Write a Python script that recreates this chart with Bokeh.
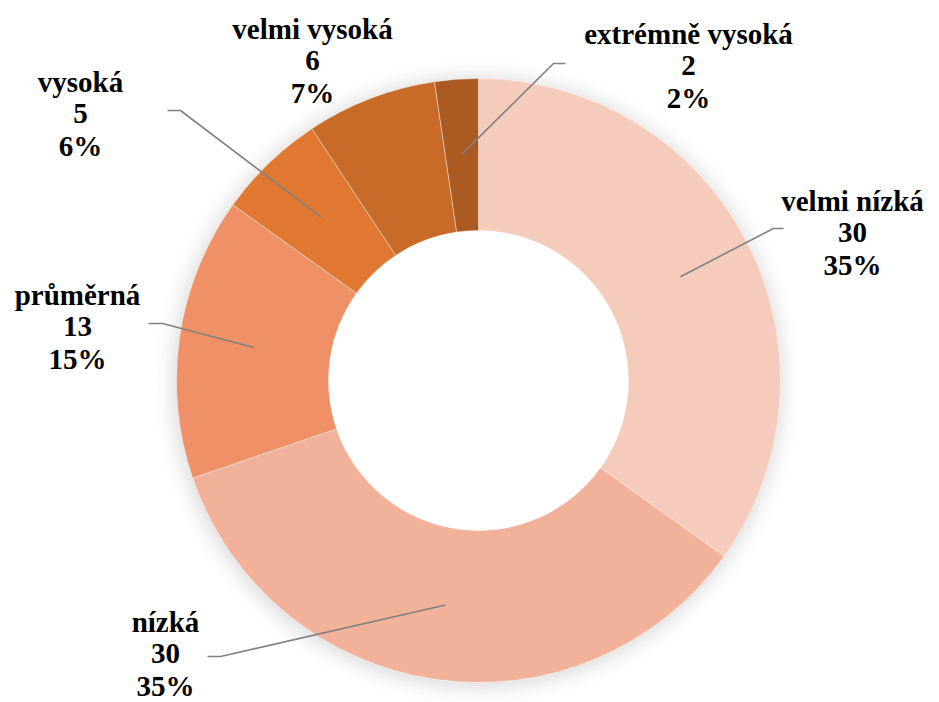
import math
from bokeh.plotting import figure
from bokeh.models import Range1d, ColumnDataSource
from bokeh.core.properties import value
from bokeh.embed import file_html
from bokeh.resources import INLINE

# ---- data ----
categories = ["velmi nízká", "nízká", "průměrná", "vysoká", "velmi vysoká", "extrémně vysoká"]
counts = [30, 30, 13, 5, 6, 2]
colors = ["#F5CBBC", "#F2B199", "#EF9066", "#E07831", "#C86B29", "#AB5A21"]

# ---- layout (pixel-like data units, y up) ----
W, H = 939, 702
CX, CY = 478, 322
R_OUT, R_IN = 302, 150
R_LEADER = 227
# label block centre (x, y of middle line)
label_x = [852, 165, 77, 80, 312, 688]
label_y = [470, 49, 376, 589, 642, 637]
LINE_GAP = 32
# leader line: outer start point and knee (None = no leader)
lead_start = [(783, 474), (207, 46), (148, 379), (167, 592), None, (565, 639)]
lead_knee = [(773, 474), (220, 46), (162, 379), (180, 592), None, (553, 639)]

total = sum(counts)
pcts = [round(c / total * 100) for c in counts]

starts, ends, mids = [], [], []
acc = 0
for c in counts:
    a0 = acc / total
    acc += c
    a1 = acc / total
    starts.append(math.pi / 2 - a0 * 2 * math.pi)
    ends.append(math.pi / 2 - a1 * 2 * math.pi)
    mids.append(math.pi / 2 - (a0 + a1) / 2 * 2 * math.pi)

p = figure(width=W, height=H, output_backend="svg", toolbar_location=None,
           x_range=Range1d(0, W), y_range=Range1d(0, H), min_border=0)
p.axis.visible = False
p.grid.visible = False
p.outline_line_color = None
p.background_fill_color = "white"

# soft outer shadow
n = 14
for i in range(n):
    r0 = R_OUT - 2 + i * 2
    p.annulus(x=CX - 1, y=CY - 2, inner_radius=r0, outer_radius=r0 + 2,
              fill_color="#000000", fill_alpha=0.10 * (1 - i / n) ** 2, line_color=None)

src = ColumnDataSource(dict(start=starts, end=ends, color=colors, cat=categories))
p.annular_wedge(x=CX, y=CY, inner_radius=R_IN, outer_radius=R_OUT,
                start_angle="start", end_angle="end", direction="clock",
                fill_color="color", line_color="#FFFFFF", line_alpha=0.5, line_width=0.8,
                source=src)

# leader lines
for i in range(len(categories)):
    if lead_start[i] is None:
        continue
    ex = CX + R_LEADER * math.cos(mids[i])
    ey = CY + R_LEADER * math.sin(mids[i])
    xs = [lead_start[i][0], lead_knee[i][0], ex]
    ys = [lead_start[i][1], lead_knee[i][1], ey]
    p.line(xs, ys, line_color="#808080", line_width=1.6)

# labels
tx, ty, tt = [], [], []
for i, cat in enumerate(categories):
    lines = [cat, str(counts[i]), f"{pcts[i]}%"]
    for k, s in enumerate(lines):
        tx.append(label_x[i])
        ty.append(label_y[i] + (1 - k) * LINE_GAP)
        tt.append(s)
p.text(x=tx, y=ty, text=tt, text_align="center", text_baseline="middle",
       text_font=value("Liberation Serif"), text_font_style="bold",
       text_font_size="29px", text_color="#000000")

open("out.html", "w").write(file_html(p, INLINE))
